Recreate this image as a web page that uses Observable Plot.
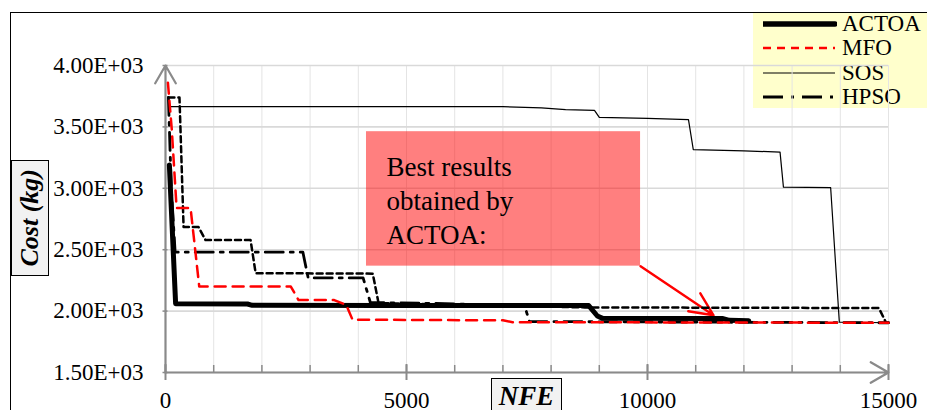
<!DOCTYPE html>
<html><head><meta charset="utf-8">
<script src="https://cdn.jsdelivr.net/npm/d3@7"></script>
<script src="https://cdn.jsdelivr.net/npm/@observablehq/plot@0.6"></script>
<style>
body{margin:0;width:927px;height:410px;overflow:hidden;position:relative;background:#fff;font-family:"Liberation Serif","Times New Roman",serif;}
#frame{position:absolute;left:10px;top:12px;width:1200px;height:800px;border-left:1.5px solid #000;border-top:1.5px solid #000;z-index:3;pointer-events:none}
#legend{position:absolute;left:753px;top:13px;width:200px;height:95px;background:#ffffcc;z-index:0}
#chart{position:absolute;left:0;top:0;z-index:1}
.lab{position:absolute;background:#f2f2f2;border:1px solid #000;z-index:2;font-weight:bold;font-style:italic;color:#000;box-sizing:border-box}
#ylab{left:11px;top:160px;width:38px;height:116px;display:flex;align-items:center;justify-content:center;font-size:26px}
#ylab span{writing-mode:vertical-rl;transform:rotate(180deg);white-space:nowrap;line-height:1}
#xlab{left:491px;top:378px;width:71px;height:50px;text-align:center;font-size:27px;line-height:27px;padding-top:4px}
.leg-item{position:absolute;left:0;height:24px;width:200px}
.leg-item svg{position:absolute;left:10px;top:0}
.leg-item span{position:absolute;left:89px;top:0;font-size:23px;line-height:24px;color:#000}
</style></head>
<body>
<div id="legend"></div>
<div id="chart"></div>
<div id="frame"></div>
<div class="lab" id="ylab"><span>Cost (kg)</span></div>
<div class="lab" id="xlab">NFE</div>
<script>
// ---- data ----
const xDomain = [0, 15000];
const yDomain = [1500, 4000];
const xGridTicks = [0,1000,2000,3000,4000,5000,6000,7000,8000,9000,10000,11000,12000,13000,14000,15000];
const xLabelTicks = [0, 5000, 10000, 15000];
const xTickLabels = ["0", "5000", "10000", "15000"];
const yTicks = [1500, 2000, 2500, 3000, 3500, 4000];
const yTickLabels = ["1.50E+03", "2.00E+03", "2.50E+03", "3.00E+03", "3.50E+03", "4.00E+03"];

const seriesNames = ["ACTOA", "MFO", "SOS", "HPSO"];

// [NFE, cost]
const actoa = [[80,3190],[210,2060],[1700,2058],[1800,2047],[4500,2045],[8780,2045],[8960,1960],[9070,1941],[11550,1940],[11700,1925],[12100,1922]];
const mfo = [[50,3860],[130,3480],[230,2840],[520,2840],[700,2200],[2600,2200],[2760,2090],[3500,2090],[3750,2050],[3880,1930],[7000,1925],[7200,1910],[15000,1905]];
const sos = [[80,3665],[7000,3665],[7800,3655],[8300,3640],[8900,3635],[9000,3578],[10000,3570],[10850,3560],[10950,3315],[12000,3305],[12750,3295],[12820,3010],[13800,3005],[13980,1910],[15000,1905]];
const hpso = [[60,3740],[120,3000],[200,2480],[2850,2480],[2960,2270],[4100,2270],[4250,2070],[5600,2062],[7450,2045],[7550,1915],[15000,1905]];
const extraDashed = [[60,3740],[290,3740],[375,2685],[685,2685],[830,2578],[1765,2578],[1870,2309],[4300,2305],[4420,2065],[8700,2030],[14800,2025],[14950,1905],[15000,1905]];

const calloutText = "Best results\nobtained by\nACTOA:";
const callout = {x1: 4170, x2: 9856, y1: 2366, y2: 3461, tx: 4586, ty: 3300, text: calloutText};
const calloutArrow = {x1: 9856, y1: 2366, x2: 11370, y2: 1966};

// ---- styles ----
const axisGray = "#8a8a8a";
const styles = {
  ACTOA: {stroke: "#000", strokeWidth: 5, dash: null},
  MFO: {stroke: "#ff0000", strokeWidth: 2.5, dash: "11,7"},
  SOS: {stroke: "#000", strokeWidth: 1.2, dash: null},
  HPSO: {stroke: "#000", strokeWidth: 2.8, dash: "18,7,3,7"},
  extra: {stroke: "#000", strokeWidth: 2.5, dash: "6,4"}
};
const X = d => d[0], Y = d => d[1];
const lineMark = (data, s) => Plot.line(data, {x: X, y: Y, stroke: s.stroke, strokeWidth: s.strokeWidth, strokeDasharray: s.dash || undefined});
const tickFont = "Liberation Serif";

const chart = Plot.plot({
  width: 927, height: 410,
  marginLeft: 165, marginRight: 39, marginTop: 65, marginBottom: 38,
  x: {domain: xDomain},
  y: {domain: yDomain},
  style: {background: "transparent", fontFamily: "'Liberation Serif', 'Times New Roman', serif", overflow: "visible"},
  marks: [
    Plot.gridX(xGridTicks, {stroke: "#e4e4e4", strokeOpacity: 1, strokeWidth: 1}),
    Plot.gridY(yTicks, {stroke: "#d9d9d9", strokeOpacity: 1, strokeWidth: 1.6}),
    Plot.rect([callout], {x1: "x1", x2: "x2", y1: "y1", y2: "y2", fill: "#ff0000", fillOpacity: 0.5}),
    Plot.text([callout], {x: "tx", y: "ty", text: "text", textAnchor: "start", lineAnchor: "top", fontSize: 27, lineHeight: 1.26, fill: "#000", fontFamily: tickFont}),
    Plot.arrow([calloutArrow], {x1: "x1", y1: "y1", x2: "x2", y2: "y2", stroke: "#ff0000", strokeWidth: 2.4, headLength: 16, headAngle: 50}),
    // axes ticks
    Plot.axisX(xGridTicks, {tickSize: 7, dy: -7, stroke: axisGray, strokeWidth: 1.5, tickFormat: () => "", label: null}),
    Plot.axisX(xLabelTicks, {tickSize: 16, dy: -8, stroke: axisGray, strokeWidth: 2, tickFormat: () => "", label: null}),
    Plot.axisY(yTicks, {tickSize: 5, dx: 2.5, stroke: axisGray, strokeWidth: 1.5, tickFormat: () => "", label: null}),
    // tick labels
    Plot.text(xLabelTicks, {x: d => d, frameAnchor: "bottom", lineAnchor: "top", dy: 19, text: d => xTickLabels[xLabelTicks.indexOf(d)], fontSize: 23, fontFamily: tickFont, fill: "#000"}),
    Plot.text(yTicks, {y: d => d, frameAnchor: "left", textAnchor: "end", dx: -22, text: d => yTickLabels[yTicks.indexOf(d)], fontSize: 23, fontFamily: tickFont, fill: "#000"}),
    Plot.arrow([{x1: xDomain[0], y1: yDomain[0], x2: xDomain[0], y2: yDomain[1]}], {x1: "x1", y1: "y1", x2: "x2", y2: "y2", stroke: axisGray, strokeWidth: 2.2, headLength: 14}),
    Plot.arrow([{x1: xDomain[0], y1: yDomain[0], x2: xDomain[1], y2: yDomain[0]}], {x1: "x1", y1: "y1", x2: "x2", y2: "y2", stroke: axisGray, strokeWidth: 2.2, headLength: 14}),
    // series
    lineMark(sos, styles.SOS),
    lineMark(extraDashed, styles.extra),
    lineMark(hpso, styles.HPSO),
    lineMark(actoa, styles.ACTOA),
    lineMark(mfo, styles.MFO)
  ]
});
document.getElementById("chart").appendChild(chart);

// ---- legend ----
const legend = d3.select("#legend");
const rowTops = [-1, 23, 48, 72];
seriesNames.forEach((name, i) => {
  const s = styles[name];
  const item = legend.append("div").attr("class", "leg-item").style("top", rowTops[i] + "px");
  const svg = item.append("svg").attr("width", 74).attr("height", 24);
  svg.append("line").attr("x1", 0).attr("x2", 72).attr("y1", 12).attr("y2", 12)
    .attr("stroke", s.stroke).attr("stroke-width", name === "ACTOA" ? 5.5 : s.strokeWidth)
    .attr("stroke-dasharray", name === "MFO" ? "8,6" : name === "HPSO" ? "20,8,3,8" : null)
    .attr("stroke-linecap", name === "ACTOA" ? "round" : "butt");
  item.append("span").text(name);
});
</script>
</body></html>
